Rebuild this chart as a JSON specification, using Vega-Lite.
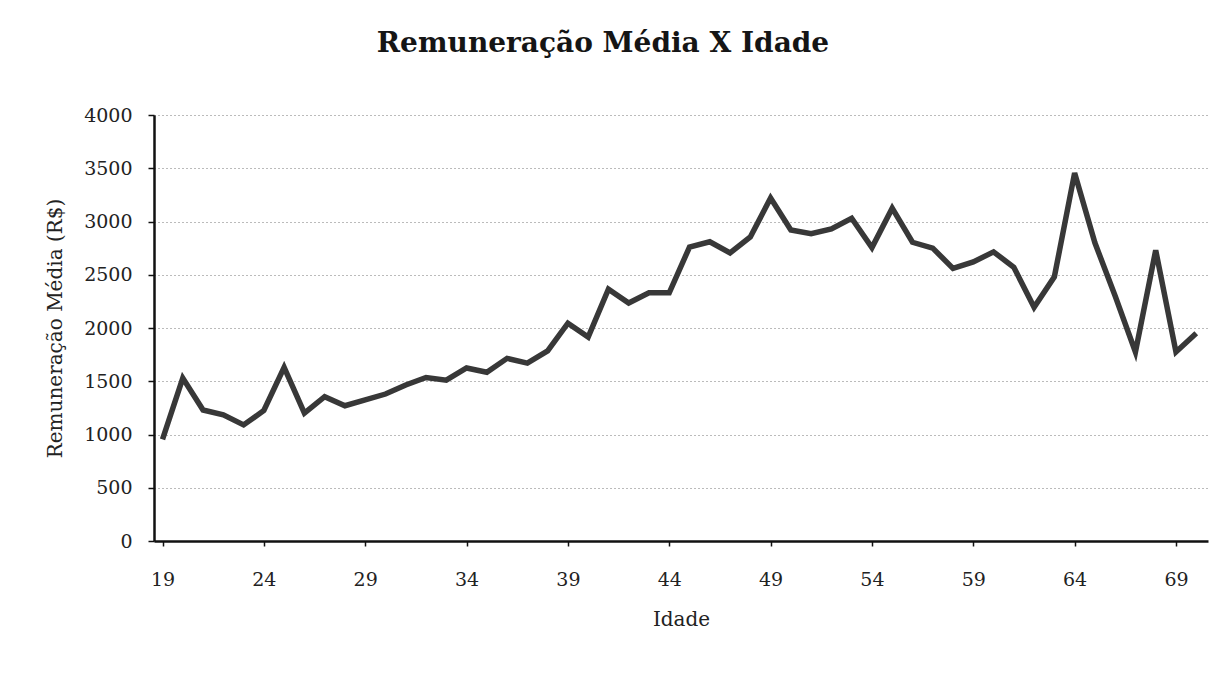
{
  "$schema": "https://vega.github.io/schema/vega-lite/v6.json",
  "width": 1054,
  "height": 426,
  "autosize": {"type": "none"},
  "padding": {"left": 154, "top": 115, "right": 18, "bottom": 134},
  "background": "white",
  "title": {
    "text": "Remuneração Média X Idade",
    "font": "DejaVu Serif",
    "fontSize": 28,
    "fontWeight": "bold",
    "color": "#151515",
    "anchor": "middle",
    "dx": -78,
    "offset": 48
  },
  "config": {
    "view": {"stroke": null},
    "axis": {
      "labelFont": "DejaVu Serif",
      "titleFont": "DejaVu Serif",
      "labelFontSize": 19,
      "titleFontSize": 20,
      "labelColor": "#222",
      "titleColor": "#222",
      "titleFontWeight": "normal",
      "domainColor": "#111",
      "domainWidth": 2.5,
      "tickColor": "#111",
      "tickWidth": 1.5
    }
  },
  "data": {
    "values": [
      {"idade": 19, "rem": 955},
      {"idade": 20, "rem": 1530},
      {"idade": 21, "rem": 1230},
      {"idade": 22, "rem": 1185},
      {"idade": 23, "rem": 1090},
      {"idade": 24, "rem": 1225},
      {"idade": 25, "rem": 1630},
      {"idade": 26, "rem": 1200},
      {"idade": 27, "rem": 1355},
      {"idade": 28, "rem": 1270},
      {"idade": 29, "rem": 1325},
      {"idade": 30, "rem": 1380},
      {"idade": 31, "rem": 1465},
      {"idade": 32, "rem": 1535},
      {"idade": 33, "rem": 1510},
      {"idade": 34, "rem": 1625},
      {"idade": 35, "rem": 1585},
      {"idade": 36, "rem": 1715},
      {"idade": 37, "rem": 1670},
      {"idade": 38, "rem": 1785},
      {"idade": 39, "rem": 2045},
      {"idade": 40, "rem": 1915},
      {"idade": 41, "rem": 2365},
      {"idade": 42, "rem": 2235},
      {"idade": 43, "rem": 2330},
      {"idade": 44, "rem": 2330},
      {"idade": 45, "rem": 2760},
      {"idade": 46, "rem": 2810},
      {"idade": 47, "rem": 2705},
      {"idade": 48, "rem": 2855},
      {"idade": 49, "rem": 3220},
      {"idade": 50, "rem": 2920},
      {"idade": 51, "rem": 2885},
      {"idade": 52, "rem": 2930},
      {"idade": 53, "rem": 3030},
      {"idade": 54, "rem": 2755},
      {"idade": 55, "rem": 3125},
      {"idade": 56, "rem": 2805},
      {"idade": 57, "rem": 2750},
      {"idade": 58, "rem": 2560},
      {"idade": 59, "rem": 2620},
      {"idade": 60, "rem": 2715},
      {"idade": 61, "rem": 2570},
      {"idade": 62, "rem": 2195},
      {"idade": 63, "rem": 2480},
      {"idade": 64, "rem": 3455},
      {"idade": 65, "rem": 2800},
      {"idade": 66, "rem": 2300},
      {"idade": 67, "rem": 1775},
      {"idade": 68, "rem": 2730},
      {"idade": 69, "rem": 1775},
      {"idade": 70, "rem": 1950}
    ]
  },
  "mark": {"type": "line", "color": "#383838", "strokeWidth": 5.5, "strokeJoin": "miter", "clip": false},
  "encoding": {
    "x": {
      "field": "idade",
      "type": "quantitative",
      "scale": {"domain": [18.58, 70.58], "nice": false, "zero": false},
      "axis": {
        "title": "Idade",
        "values": [19, 24, 29, 34, 39, 44, 49, 54, 59, 64, 69],
        "format": "d",
        "grid": false,
        "tickSize": 5,
        "labelPadding": 24,
        "titlePadding": 20
      }
    },
    "y": {
      "field": "rem",
      "type": "quantitative",
      "scale": {"domain": [0, 4000], "nice": false},
      "axis": {
        "title": "Remuneração Média (R$)",
        "values": [0, 500, 1000, 1500, 2000, 2500, 3000, 3500, 4000],
        "format": "d",
        "grid": true,
        "gridColor": "#777",
        "gridDash": [1, 3],
        "gridWidth": 1,
        "tickSize": 6,
        "labelPadding": 16,
        "titlePadding": 18
      }
    }
  }
}
